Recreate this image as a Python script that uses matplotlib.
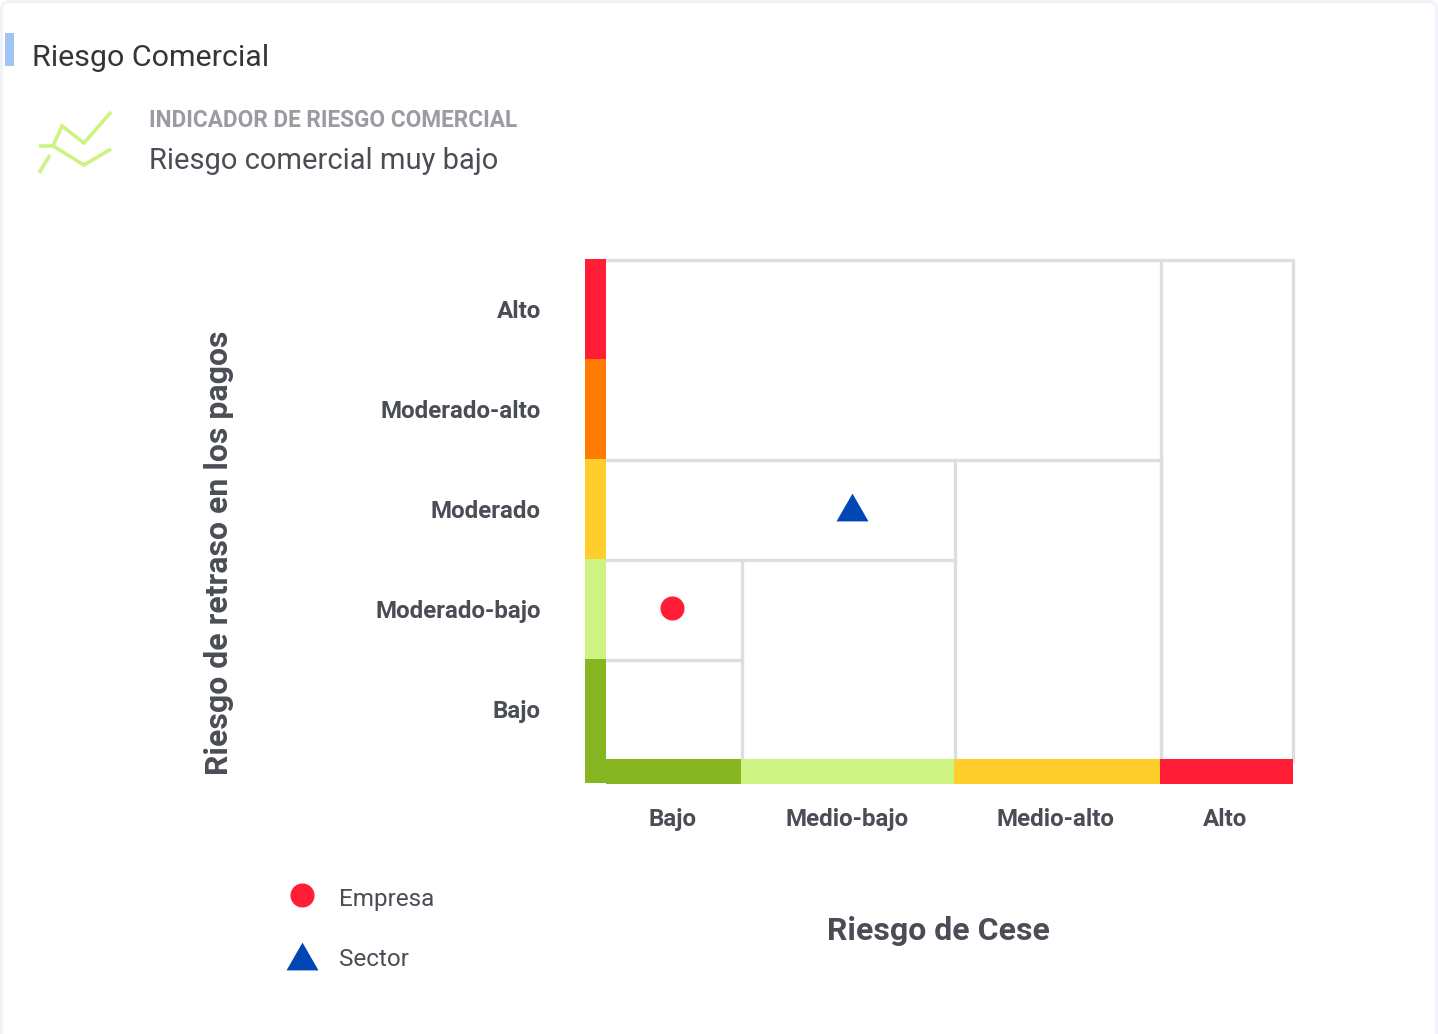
import matplotlib
matplotlib.use("Agg")
import matplotlib.pyplot as plt
from matplotlib.patches import FancyBboxPatch, Rectangle
from matplotlib.transforms import Affine2D

plt.rcParams['font.family'] = ['Roboto', 'DejaVu Sans']

W, H = 1438, 1034

# Risk levels and where the columns of the matrix end
y_levels = ["Bajo", "Moderado-bajo", "Moderado", "Moderado-alto", "Alto"]
y_colors = ["#85B520", "#CDF382", "#FFCE2B", "#FF7A00", "#FF1E35"]
x_levels = ["Bajo", "Medio-bajo", "Medio-alto", "Alto"]
x_colors = ["#85B520", "#CDF382", "#FFCE2B", "#FF1E35"]
x_edges = [0, 135, 348, 554, 687]
x_label_pos = [66, 241, 449, 619]

# Staircase of the cells: (right edge of the row, height of the row)
stair_x = [136, 349, 555]
stair_y = [1, 2, 3]
frame_right = 687

empresa_x, empresa_y = [66], [1.51]
sector_x, sector_y = [246], [2.52]

# Small trend icon, in pixels of the picture
icon_up_x = [39, 50]
icon_up_y = [173, 155]
icon_mid_x = [39, 53, 62, 84, 111]
icon_mid_y = [146, 146, 126, 143, 112]
icon_low_x = [53, 84, 111]
icon_low_y = [146, 165, 149]

GREY = "#DCDFDF"
TEXT = "#4A4D55"
LINE_W = 3.3 * 0.72

fig = plt.figure(figsize=(W / 100, H / 100), dpi=100, facecolor="white")

# Background layer working in picture pixels, for the card and header
bg = fig.add_axes([0, 0, 1, 1])
bg.set_xlim(0, W)
bg.set_ylim(H, 0)
bg.axis("off")

bg.add_patch(FancyBboxPatch((1.5, 1.5), W - 3, H + 30, boxstyle="round,pad=0,rounding_size=8",
                            fc="white", ec="#F0F3F8", lw=2.2))
bg.add_patch(Rectangle((5, 33), 9, 33, fc="#A0C4F4", ec="none"))
bg.text(32, 58, "Riesgo Comercial", fontsize=21.9, color="#333539", va="center", ha="left")
bg.text(149, 120.5, "INDICADOR DE RIESGO COMERCIAL", fontsize=16.3, color="#9A9CA1", va="center",
        ha="left", fontweight="bold")
bg.text(149, 161, "Riesgo comercial muy bajo", fontsize=21, color=TEXT, va="center", ha="left")

for xs, ys in [(icon_up_x, icon_up_y), (icon_mid_x, icon_mid_y), (icon_low_x, icon_low_y)]:
    bg.plot(xs, ys, color="#CDF382", lw=2.6, solid_capstyle="butt", solid_joinstyle="miter")

# Risk matrix: x is in pixels along the cese axis, y counts payment levels
ax = fig.add_axes([606 / W, 1 - 759 / H, 687 / W, 500 / H])
ax.set_xlim(0, 687)
ax.set_ylim(0, 5)
for spine in ax.spines.values():
    spine.set_visible(False)

# The grey rules sit just under the level boundaries
rule = ax.transData + Affine2D().translate(0, -1)

# Outer frame
ax.plot([0, frame_right, frame_right], [5, 5, 0], color=GREY, lw=LINE_W, clip_on=False,
        solid_capstyle="projecting", transform=rule)
ax.plot([stair_x[2], stair_x[2]], [0, 5], color=GREY, lw=LINE_W, clip_on=False, transform=rule)

# Nested cells
for right, top in zip(stair_x, stair_y):
    ax.plot([0, right], [top, top], color=GREY, lw=LINE_W, clip_on=False, transform=rule)
    ax.plot([right, right], [0, top + 1 if right < stair_x[2] else top], color=GREY, lw=LINE_W,
            clip_on=False, transform=rule)

# Coloured strips along both axes
for i, c in enumerate(y_colors):
    bottom = -0.24 if i == 0 else i
    height = 1.24 if i == 0 else 1
    ax.bar(-10.5, height, width=21, bottom=bottom, color=c, clip_on=False, zorder=3)
for i, c in enumerate(x_colors):
    ax.bar(x_edges[i], 0.25, width=x_edges[i + 1] - x_edges[i], bottom=-0.25, align="edge",
           color=c, clip_on=False, zorder=3)

tri = [(-1, -0.87), (1, -0.87), (0, 0.87)]
h1 = ax.scatter(empresa_x, empresa_y, s=300, color="#FF1E35", linewidths=0, zorder=4, label="Empresa")
h2 = ax.scatter(sector_x, sector_y, s=530, marker=tri, color="#0047B5", linewidths=0, zorder=4, label="Sector")

ax.set_yticks([i + 0.5 for i in range(5)], y_levels, fontsize=17.4, fontweight="bold", color=TEXT)
ax.set_xticks(x_label_pos, x_levels, fontsize=17.4, fontweight="bold", color=TEXT)
ax.tick_params(axis="y", length=0, pad=47)
ax.tick_params(axis="x", length=0, pad=35)

fig.text(938 / W, 1 - 931 / H, "Riesgo de Cese", fontsize=23, fontweight="bold", color=TEXT,
         ha="center", va="center")
fig.text(219 / W, 1 - 553 / H, "Riesgo de retraso en los pagos", fontsize=23, fontweight="bold",
         color=TEXT, rotation=90, ha="center", va="center")

fig.legend(handles=[h1, h2], loc="upper left", bbox_to_anchor=(268 / W, 1 - 878 / H), frameon=False,
           fontsize=17.5, labelcolor=TEXT, scatterpoints=1, scatteryoffsets=[0.62], labelspacing=1.55,
           handletextpad=0.52, borderpad=0.4, borderaxespad=0)

fig.savefig("out.png", dpi=100)
